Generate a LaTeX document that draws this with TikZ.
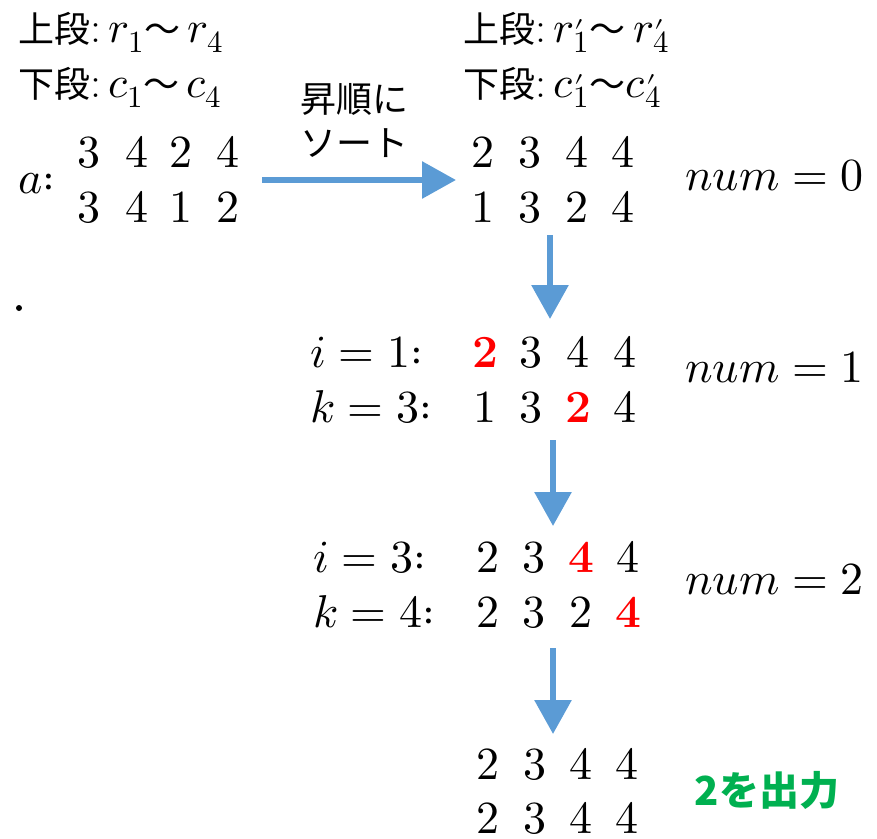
\documentclass[tikz,border=0pt]{standalone}
\usepackage{fontspec}
\usepackage{unicode-math}
\setmathfont{Latin Modern Math}
\newfontfamily\cjk{Noto Sans CJK JP}
\usetikzlibrary{arrows.meta}
\definecolor{arrowblue}{HTML}{5B9BD5}
\definecolor{hired}{HTML}{FF0000}
\definecolor{outgreen}{HTML}{00B050}
\newcommand\hl[1]{{\color{hired}\mathbf{#1}}}
\newcommand\lowprime{\rlap{\kern1pt$\scriptstyle\prime$}}
\newcommand\jpl[1]{{\cjk\fontsize{36}{44}\selectfont #1}}
\tikzset{
  big/.style={font=\fontsize{46}{52}\selectfont, inner sep=0pt},
  dg/.style={big, anchor=base},
  bigl/.style={big, anchor=base west},
  lbl/.style={font=\fontsize{44}{50}\selectfont, inner sep=0pt, anchor=base west},
  jp/.style={font=\fontsize{36}{44}\selectfont\cjk, inner sep=0pt, anchor=base west},
  flow/.style={arrowblue, line width=6pt, -{Triangle[length=34pt,width=36pt]}},
}
\begin{document}
\begin{tikzpicture}[x=1pt,y=-1pt]
\useasboundingbox (0,0) rectangle (877,838);
% labels
\node[lbl] (lab1) at (18,42) {\jpl{上段}:$\,r_1$\jpl{〜}$\,r_4$};
\node[lbl] (lab2) at (18,97) {\jpl{下段}:$\,c_1$\jpl{〜}$\,c_4$};
\node[lbl] (lab3) at (463,42) {\jpl{上段}:$\,r\lowprime_1$\jpl{〜}$\,r\lowprime_4$};
\node[lbl] (lab4) at (463,97) {\jpl{下段}:$\,c\lowprime_1$\jpl{〜}$c\lowprime_4$};
\node[jp] (sort1) at (300,112) {昇順に};
\node[jp] (sort2) at (300,156) {ソート};
% a
\node[bigl] (alab) at (18,193) {$a{:}$};
\foreach \x/\d [count=\i] in {89/3,137/4,181/2,228/4}
  \node[dg] (aA\i) at (\x,167) {$\d$};
\foreach \x/\d [count=\i] in {89/3,137/4,181/1,228/2}
  \node[dg] (aB\i) at (\x,222) {$\d$};
% sorted
\foreach \x/\d [count=\i] in {483/2,530/3,577/4,623/4}
  \node[dg] (bA\i) at (\x,167) {$\d$};
\foreach \x/\d [count=\i] in {483/1,530/3,577/2,623/4}
  \node[dg] (bB\i) at (\x,222) {$\d$};
\node[bigl] (num0) at (685,190) {$num=0$};
% step 1
\node[bigl] (i1) at (310,367) {$i=1{:}$};
\node[bigl] (k1) at (310,422) {$k=3{:}$};
\foreach \x/\d [count=\i] in {485/\hl{2},531/3,578/4,625/4}
  \node[dg] (cA\i) at (\x,367) {$\d$};
\foreach \x/\d [count=\i] in {485/1,531/3,578/\hl{2},625/4}
  \node[dg] (cB\i) at (\x,422) {$\d$};
\node[bigl] (num1) at (685,382) {$num=1$};
% step 2
\node[bigl] (i2) at (313,572) {$i=3{:}$};
\node[bigl] (k2) at (313,627) {$k=4{:}$};
\foreach \x/\d [count=\i] in {488/2,534/3,581/\hl{4},628/4}
  \node[dg] (dA\i) at (\x,572) {$\d$};
\foreach \x/\d [count=\i] in {488/2,534/3,581/2,628/\hl{4}}
  \node[dg] (dB\i) at (\x,627) {$\d$};
\node[bigl] (num2) at (685,594) {$num=2$};
% final
\foreach \x/\d [count=\i] in {488/2,535/3,581/4,627/4}
  \node[dg] (eA\i) at (\x,779) {$\d$};
\foreach \x/\d [count=\i] in {488/2,535/3,581/4,627/4}
  \node[dg] (eB\i) at (\x,833) {$\d$};
\node[font=\fontsize{40}{46}\selectfont\cjk\bfseries, text=outgreen, inner sep=0pt] (out) at (767,790) {2を出力};
% dot
\node[circle, fill=black, inner sep=0pt, minimum size=6pt] (dot) at (19,308) {};
% arrows
\coordinate (s1) at (262,180); \coordinate (t1) at (456,180);
\coordinate (s2) at (550,235); \coordinate (t2) at (550,319);
\coordinate (s3) at (553,440); \coordinate (t3) at (553,526);
\coordinate (s4) at (553,648); \coordinate (t4) at (553,734);
\draw[flow] (s1) -- (t1);
\draw[flow] (s2) -- (t2);
\draw[flow] (s3) -- (t3);
\draw[flow] (s4) -- (t4);
\end{tikzpicture}
\end{document}
